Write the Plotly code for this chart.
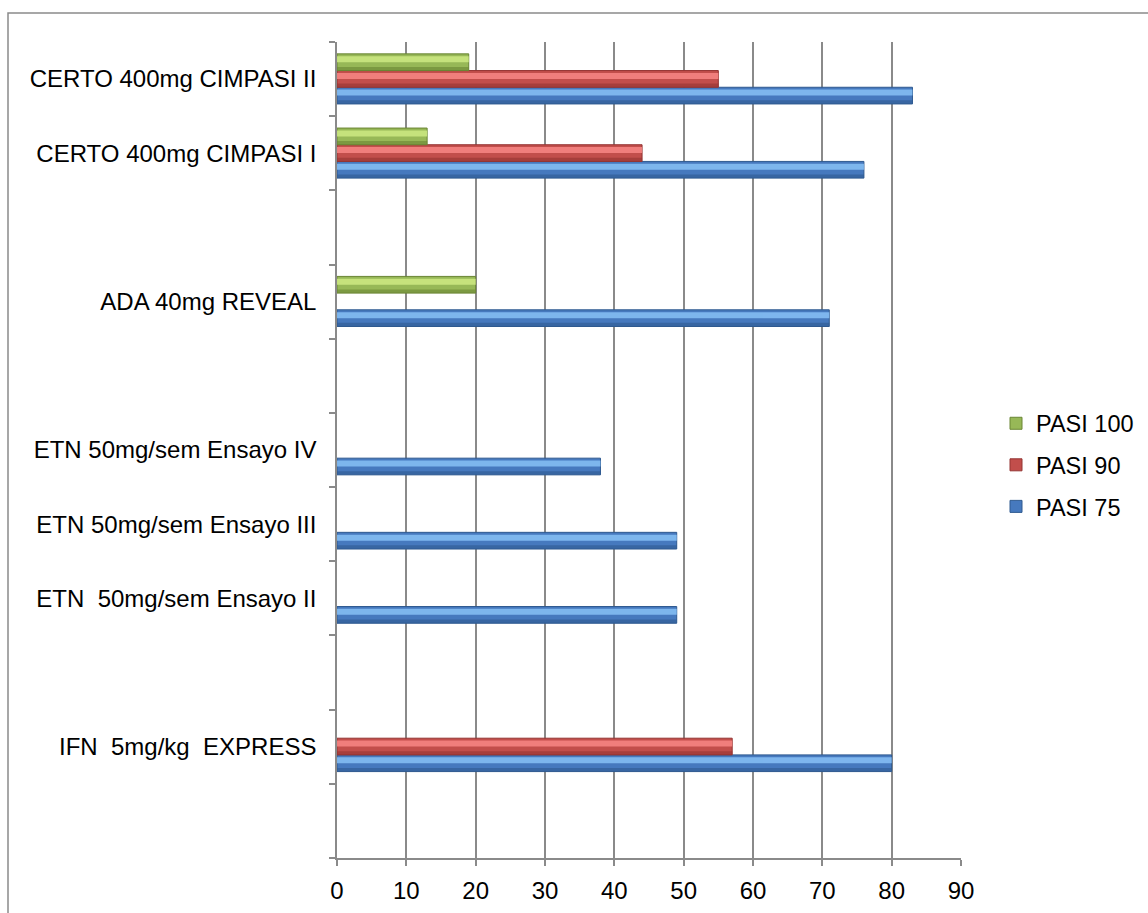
import plotly.graph_objects as go

# Categories, bottom to top (blank slots are empty rows in the chart)
categories = [
    "\u00a0",
    "IFN \u00a05mg/kg \u00a0EXPRESS",
    "\u00a0\u00a0",
    "ETN \u00a050mg/sem Ensayo II",
    "ETN 50mg/sem Ensayo III",
    "ETN 50mg/sem Ensayo IV",
    "\u00a0\u00a0\u00a0",
    "ADA 40mg REVEAL",
    "\u00a0\u00a0\u00a0\u00a0",
    "CERTO 400mg CIMPASI I",
    "CERTO 400mg CIMPASI II",
]
pasi75 = [None, 80, None, 49, 49, 38, None, 71, None, 76, 83]
pasi90 = [None, 57, None, None, None, None, None, None, None, 44, 55]
pasi100 = [None, None, None, None, None, None, None, 20, None, 13, 19]
x_ticks = [0, 10, 20, 30, 40, 50, 60, 70, 80, 90]

series = [
    # name, values, base colour, dark colour, light colour, offset, legend rank
    ("PASI 75", pasi75, "#4679BE", "#2F5A90", "#84BDF3", -0.335, 3),
    ("PASI 90", pasi90, "#C24E4B", "#943432", "#F58482", -0.11, 2),
    ("PASI 100", pasi100, "#97B857", "#6A8634", "#CBE781", 0.115, 1),
]
W = 0.225

FONT = "Liberation Sans, Arial, sans-serif"
GRAY = "#8a8a8a"

fig = go.Figure()
for name, vals, base, dark, light, off, rank in series:
    fig.add_trace(go.Bar(
        y=categories, x=vals, orientation="h", name=name,
        offset=off, width=W, legendgroup=name, legendrank=rank,
        marker=dict(color=base, line=dict(color=dark, width=1)),
        hoverinfo="x+name",
    ))
    fig.add_trace(go.Bar(
        y=categories, x=vals, orientation="h", name=name,
        offset=off, width=W * 0.22, legendgroup=name, legendrank=rank,
        showlegend=False,
        marker=dict(color=dark, line=dict(width=0)), opacity=0.6,
        hoverinfo="skip",
    ))
    fig.add_trace(go.Bar(
        y=categories, x=vals, orientation="h", name=name,
        offset=off + W * 0.5, width=W * 0.36, legendgroup=name, legendrank=rank,
        showlegend=False,
        marker=dict(color=light, line=dict(width=0)), opacity=0.9,
        hoverinfo="skip",
    ))

L, R, T, B = 337, 187, 42, 55
PW, PH = 1148 - L - R, 913 - T - B

fig.update_layout(
    width=1148, height=913,
    margin=dict(l=L, r=R, t=T, b=B, pad=0, autoexpand=False),
    barmode="overlay",
    paper_bgcolor="white", plot_bgcolor="white",
    font=dict(family=FONT, size=24, color="black"),
    showlegend=True,
    legend=dict(
        x=(996 - L) / PW, xanchor="left",
        y=(858 - 465) / PH, yanchor="middle",
        traceorder="grouped", tracegroupgap=8,
        itemwidth=30,
        font=dict(family=FONT, size=23.5, color="black"),
        bgcolor="rgba(0,0,0,0)",
    ),
    xaxis=dict(
        range=[0, 90], tickvals=x_ticks, ticktext=[str(v) for v in x_ticks],
        showgrid=True, gridcolor=GRAY, gridwidth=1.5,
        zeroline=False, showline=True, linecolor=GRAY, linewidth=1.5,
        ticks="outside", ticklen=6, tickcolor=GRAY, tickwidth=1.5,
        ticklabelstandoff=4,
        tickfont=dict(family=FONT, size=24, color="black"),
        fixedrange=True, automargin=False,
    ),
    yaxis=dict(
        type="category", categoryorder="array", categoryarray=categories,
        range=[-0.5, len(categories) - 0.5],
        tickson="boundaries", ticks="outside", ticklen=6,
        tickcolor=GRAY, tickwidth=1.5,
        showline=True, linecolor=GRAY, linewidth=1.5,
        showgrid=False, zeroline=False,
        ticklabelstandoff=14,
        tickfont=dict(family=FONT, size=24, color="black"),
        fixedrange=True, automargin=False,
    ),
    shapes=[dict(
        type="rect", xref="paper", yref="paper",
        x0=(8 - L) / PW, x1=(1175 - L) / PW,
        y0=(858 - 940) / PH, y1=(858 - 13) / PH,
        line=dict(color=GRAY, width=1.5), fillcolor="rgba(0,0,0,0)",
        layer="below",
    )],
)

fig.write_html("out.html")
